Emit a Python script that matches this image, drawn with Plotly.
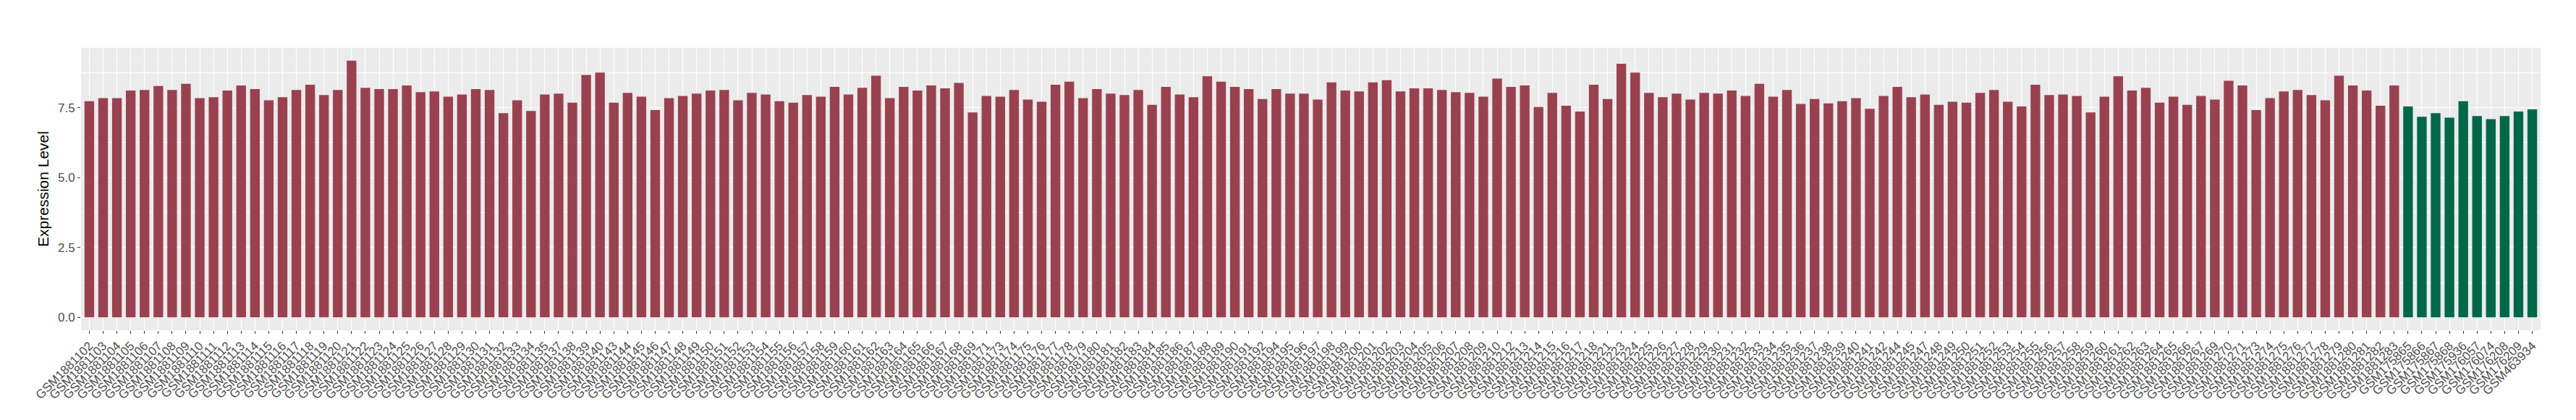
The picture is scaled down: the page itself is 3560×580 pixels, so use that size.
import plotly.graph_objects as go

case_samples = [
    "GSM1881102", "GSM1881103", "GSM1881104", "GSM1881105", "GSM1881106", "GSM1881107",
    "GSM1881108", "GSM1881109", "GSM1881110", "GSM1881111", "GSM1881112", "GSM1881113",
    "GSM1881114", "GSM1881115", "GSM1881116", "GSM1881117", "GSM1881118", "GSM1881119",
    "GSM1881120", "GSM1881121", "GSM1881122", "GSM1881123", "GSM1881124", "GSM1881125",
    "GSM1881126", "GSM1881127", "GSM1881128", "GSM1881129", "GSM1881130", "GSM1881131",
    "GSM1881132", "GSM1881133", "GSM1881134", "GSM1881135", "GSM1881137", "GSM1881138",
    "GSM1881139", "GSM1881140", "GSM1881143", "GSM1881144", "GSM1881145", "GSM1881146",
    "GSM1881147", "GSM1881148", "GSM1881149", "GSM1881150", "GSM1881151", "GSM1881152",
    "GSM1881153", "GSM1881154", "GSM1881155", "GSM1881156", "GSM1881157", "GSM1881158",
    "GSM1881159", "GSM1881160", "GSM1881161", "GSM1881162", "GSM1881163", "GSM1881164",
    "GSM1881165", "GSM1881166", "GSM1881167", "GSM1881168", "GSM1881169", "GSM1881171",
    "GSM1881173", "GSM1881174", "GSM1881175", "GSM1881176", "GSM1881177", "GSM1881178",
    "GSM1881179", "GSM1881180", "GSM1881181", "GSM1881182", "GSM1881183", "GSM1881184",
    "GSM1881185", "GSM1881186", "GSM1881187", "GSM1881188", "GSM1881189", "GSM1881190",
    "GSM1881191", "GSM1881192", "GSM1881194", "GSM1881195", "GSM1881196", "GSM1881197",
    "GSM1881198", "GSM1881199", "GSM1881200", "GSM1881201", "GSM1881202", "GSM1881203",
    "GSM1881204", "GSM1881205", "GSM1881206", "GSM1881207", "GSM1881208", "GSM1881209",
    "GSM1881210", "GSM1881212", "GSM1881213", "GSM1881214", "GSM1881215", "GSM1881216",
    "GSM1881217", "GSM1881218", "GSM1881221", "GSM1881223", "GSM1881224", "GSM1881225",
    "GSM1881226", "GSM1881227", "GSM1881228", "GSM1881229", "GSM1881230", "GSM1881231",
    "GSM1881232", "GSM1881233", "GSM1881234", "GSM1881235", "GSM1881236", "GSM1881237",
    "GSM1881238", "GSM1881239", "GSM1881240", "GSM1881241", "GSM1881242", "GSM1881244",
    "GSM1881245", "GSM1881247", "GSM1881248", "GSM1881249", "GSM1881250", "GSM1881251",
    "GSM1881252", "GSM1881253", "GSM1881254", "GSM1881255", "GSM1881256", "GSM1881257",
    "GSM1881258", "GSM1881259", "GSM1881260", "GSM1881261", "GSM1881262", "GSM1881263",
    "GSM1881264", "GSM1881265", "GSM1881266", "GSM1881267", "GSM1881269", "GSM1881270",
    "GSM1881271", "GSM1881273", "GSM1881274", "GSM1881275", "GSM1881276", "GSM1881277",
    "GSM1881278", "GSM1881279", "GSM1881280", "GSM1881281", "GSM1881282", "GSM1881283",
]

case_values = [
    7.73, 7.84, 7.84, 8.11, 8.13, 8.27, 8.13, 8.35, 7.84, 7.87, 8.11, 8.29, 8.16, 7.76, 7.87,
    8.13, 8.32, 7.95, 8.13, 9.18, 8.21, 8.16, 8.16, 8.29, 8.05, 8.08, 7.89, 7.97, 8.16, 8.13,
    7.30, 7.76, 7.38, 7.97, 8.00, 7.68, 8.67, 8.75, 7.68, 8.03, 7.89, 7.41, 7.84, 7.92, 8.00,
    8.11, 8.13, 7.76, 8.03, 7.97, 7.73, 7.68, 7.95, 7.89, 8.24, 7.97, 8.21, 8.64, 7.84, 8.24, 8.11,
    8.29, 8.19, 8.38, 7.33, 7.92, 7.89, 8.13, 7.79, 7.71, 8.32, 8.43, 7.84, 8.16, 8.00, 7.95,
    8.13, 7.60, 8.24, 7.97, 7.87, 8.62, 8.43, 8.24, 8.16, 7.81, 8.16, 8.00, 8.00, 7.79, 8.40,
    8.11, 8.08, 8.40, 8.48, 8.08, 8.19, 8.19, 8.13, 8.05, 8.03, 7.89, 8.54, 8.24, 8.29, 7.52,
    8.03, 7.57, 7.36, 8.32, 7.81, 9.07, 8.75, 8.03, 7.87, 8.00, 7.79, 8.03, 8.00, 8.11, 7.92, 8.35,
    7.89, 8.13, 7.63, 7.81, 7.65, 7.73, 7.84, 7.46, 7.92, 8.24, 7.87, 7.97, 7.60, 7.71, 7.68,
    8.03, 8.13, 7.71, 7.54, 8.32, 7.95, 7.97, 7.92, 7.33, 7.89, 8.62, 8.11, 8.21, 7.68, 7.89, 7.60,
    7.92, 7.79, 8.46, 8.29, 7.41, 7.84, 8.08, 8.13, 7.95, 7.76, 8.64, 8.29, 8.11, 7.57, 8.29,
]

control_samples = [
    "GSM175865", "GSM175866", "GSM175867", "GSM175868", "GSM175936",
    "GSM176057", "GSM176074", "GSM176208", "GSM176209", "GSM463934",
]
control_values = [7.54, 7.17, 7.30, 7.14, 7.73, 7.20, 7.09, 7.20, 7.36, 7.44]

all_samples = case_samples + control_samples
all_values = case_values + control_values
ymax = max(all_values)

CASE_COLOR = "#9A4150"
CONTROL_COLOR = "#006847"
FONT = "Liberation Sans, Arial, Helvetica, sans-serif"

fig = go.Figure()
fig.add_trace(go.Bar(x=case_samples, y=case_values, marker=dict(color=CASE_COLOR, line=dict(width=0)),
                     width=0.7, showlegend=False))
fig.add_trace(go.Bar(x=control_samples, y=control_values, marker=dict(color=CONTROL_COLOR, line=dict(width=0)),
                     width=0.7, showlegend=False))

fig.update_layout(
    width=3560, height=580,
    margin=dict(l=104, r=57, t=58, b=132, autoexpand=False),
    paper_bgcolor="white",
    plot_bgcolor="#EBEBEB",
    barmode="overlay",
    font=dict(family=FONT, color="#4D4D4D"),
    xaxis=dict(
        type="category",
        categoryorder="array",
        categoryarray=all_samples,
        range=[-0.6, len(all_samples) - 0.4],
        tickmode="array",
        tickvals=all_samples,
        ticktext=all_samples,
        tickangle=-45,
        tickfont=dict(size=17, color="#4D4D4D", family=FONT),
        showgrid=True, gridcolor="white", gridwidth=1.1,
        ticks="outside", ticklen=4, tickcolor="#333333", tickwidth=1,
        showline=False, zeroline=False,
    ),
    yaxis=dict(
        range=[-0.05 * ymax, 1.05 * ymax],
        tick0=0, dtick=2.5, tickformat=".1f",
        tickfont=dict(size=17, color="#4D4D4D", family=FONT),
        showgrid=True, gridcolor="white", gridwidth=1.1,
        minor=dict(showgrid=True, gridcolor="white", gridwidth=0.55, dtick=1.25, tick0=0),
        ticks="outside", ticklen=4, tickcolor="#333333", tickwidth=1,
        zeroline=False, showline=False,
        title=dict(text="Expression Level", font=dict(size=21, color="black", family=FONT), standoff=6),
    ),
)

fig.write_html("out.html")
